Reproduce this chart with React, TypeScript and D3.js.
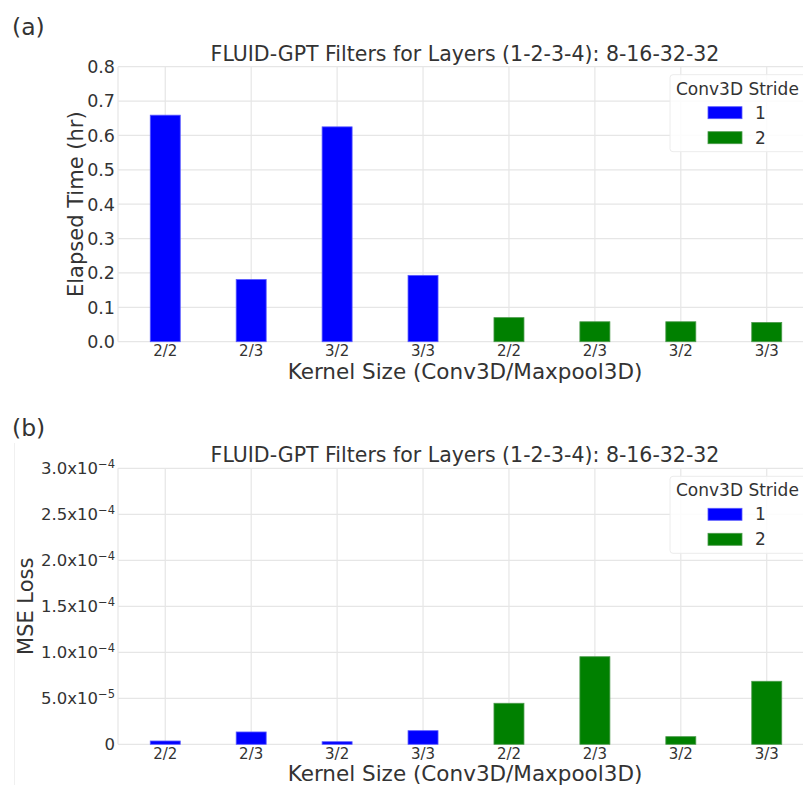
import React from "react";
import * as d3 from "d3";

const categories = ["2/2", "2/3", "3/2", "3/3", "2/2", "2/3", "3/2", "3/3"];
const strides = ["1", "1", "1", "1", "2", "2", "2", "2"];
const elapsedHr = [0.659, 0.181, 0.625, 0.193, 0.07, 0.058, 0.058, 0.056];
const mseLoss = [3.6e-6, 1.34e-5, 2.8e-6, 1.48e-5, 4.46e-5, 9.52e-5, 8.3e-6, 6.85e-5];
const topTicks = [0, 0.1, 0.2, 0.3, 0.4, 0.5, 0.6, 0.7, 0.8];
const bottomTicks = [0, 5e-5, 1e-4, 1.5e-4, 2e-4, 2.5e-4, 3e-4];
const bottomTickMant = ["0", "5.0", "1.0", "1.5", "2.0", "2.5", "3.0"];
const bottomTickExp = ["", "−5", "−4", "−4", "−4", "−4", "−4"];
const legendTitle = "Conv3D Stride";
const legendKeys = ["1", "2"];
const colorMap: Record<string, string> = { "1": "#0000ff", "2": "#008000" };
const edgeMap: Record<string, string> = { "1": "#5a5aff", "2": "#4c9a4c" };
const title = "FLUID-GPT Filters for Layers (1-2-3-4): 8-16-32-32";
const xTitle = "Kernel Size (Conv3D/Maxpool3D)";

const FONT = "DejaVu Sans";
const TXT = "#333";
const GRID = "#e6e6e6";

type PanelProps = {
  label: string;
  top: number;
  bottom: number;
  values: number[];
  yMax: number;
  ticks: number[];
  yTitle: string;
  yTitleX: number;
  tickLabel: (i: number) => React.ReactNode;
  tickFont: number;
};

function Panel(p: PanelProps) {
  const left = 118;
  const right = 814;
  const x = d3.scaleLinear().domain([-0.55, 7.55]).range([left, right]);
  const y = d3.scaleLinear().domain([0, p.yMax]).range([p.bottom, p.top]);
  const bw = 30;
  const legX = 670;
  const legY = p.top + 8;
  return (
    <g>
      <text x={12} y={p.top - 32} fontSize={23.5} fill={TXT} fontFamily={FONT}>{p.label}</text>
      {p.ticks.map((t, i) => (
        <line key={"h" + i} x1={left} x2={803} y1={y(t)} y2={y(t)} stroke={GRID} strokeWidth={1.2} />
      ))}
      {categories.map((c, i) => (
        <line key={"v" + i} x1={x(i)} x2={x(i)} y1={p.top} y2={p.bottom} stroke={GRID} strokeWidth={1.2} />
      ))}
      <line x1={left} x2={left} y1={p.top} y2={p.bottom} stroke={GRID} strokeWidth={1.2} />
      {p.values.map((v, i) => (
        <rect key={"b" + i} x={x(i) - bw / 2} y={y(v)} width={bw} height={p.bottom - y(v)}
          fill={colorMap[strides[i]]} stroke={edgeMap[strides[i]]} strokeWidth={0.8} />
      ))}
      {p.ticks.map((t, i) => (
        <text key={"yt" + i} x={left - 3} y={y(t)} dy="0.36em" textAnchor="end" fontSize={p.tickFont}
          fill={TXT} fontFamily={FONT}>{p.tickLabel(i)}</text>
      ))}
      {categories.map((c, i) => (
        <text key={"xt" + i} x={x(i)} y={p.bottom + 14.5} textAnchor="middle" fontSize={15}
          fill={TXT} fontFamily={FONT}>{c}</text>
      ))}
      <text x={465} y={p.top - 6} textAnchor="middle" fontSize={20.5} fill={TXT} fontFamily={FONT}>{title}</text>
      <text x={465} y={p.bottom + 37} textAnchor="middle" fontSize={21.5} fill={TXT} fontFamily={FONT}>{xTitle}</text>
      <text transform={`translate(${p.yTitleX},${(p.top + p.bottom) / 2}) rotate(-90)`} textAnchor="middle"
        fontSize={21} fill={TXT} fontFamily={FONT}>{p.yTitle}</text>
      <rect x={legX} y={legY} width={150} height={77} rx={3} fill="rgba(255,255,255,0.85)" stroke="#ececec" strokeWidth={1} />
      <text x={legX + 6} y={legY + 20} fontSize={17} fill={TXT} fontFamily={FONT}>{legendTitle}</text>
      {legendKeys.map((k, i) => (
        <g key={"lg" + i}>
          <rect x={legX + 38} y={legY + 32 + i * 25} width={34} height={12} fill={colorMap[k]} stroke={edgeMap[k]} strokeWidth={0.8} />
          <text x={legX + 85} y={legY + 44 + i * 25} fontSize={17} fill={TXT} fontFamily={FONT}>{k}</text>
        </g>
      ))}
    </g>
  );
}

export default function App() {
  return (
    <svg width={803} height={785} style={{ position: "absolute", left: 0, top: 0, background: "#fff" }}>
      <rect width={803} height={785} fill="#fff" />
      <line x1={14.5} x2={14.5} y1={443} y2={785} stroke="#f0f0f0" strokeWidth={1} />
      <Panel label="(a)" top={66.7} bottom={341.7} values={elapsedHr} yMax={0.8} ticks={topTicks}
        yTitle="Elapsed Time (hr)" yTitleX={83} tickFont={17.5}
        tickLabel={(i) => topTicks[i].toFixed(1)} />
      <Panel label="(b)" top={468.3} bottom={744.3} values={mseLoss} yMax={3e-4} ticks={bottomTicks}
        yTitle="MSE Loss" yTitleX={33} tickFont={16.5}
        tickLabel={(i) => bottomTickExp[i] === "" ? bottomTickMant[i] : (
          <>
            {bottomTickMant[i] + "x10"}
            <tspan dy={-6} fontSize={11.5}>{bottomTickExp[i]}</tspan>
          </>
        )} />
    </svg>
  );
}
